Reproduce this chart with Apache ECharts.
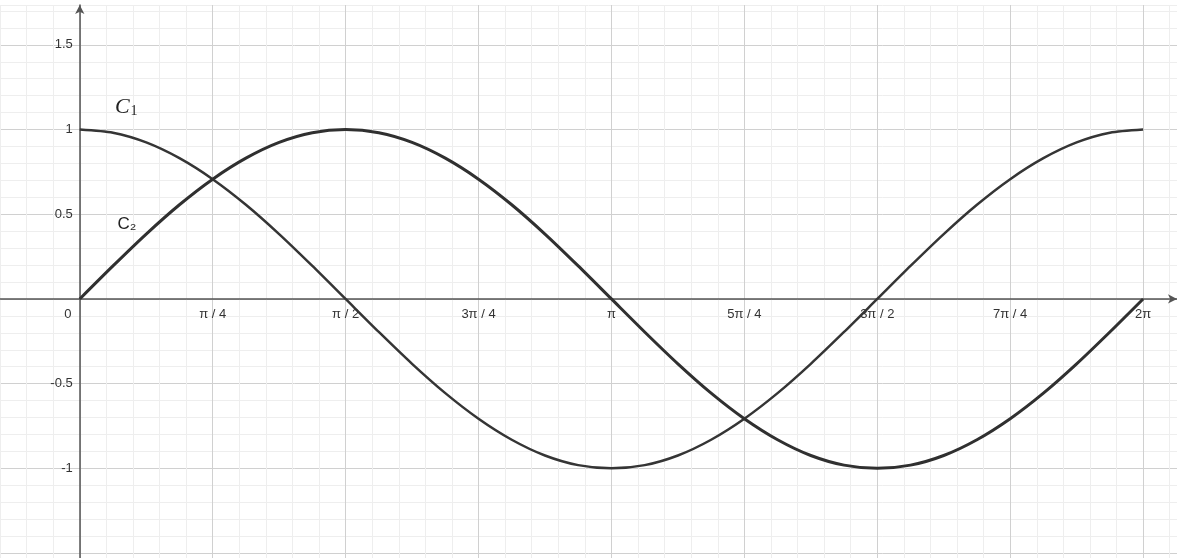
<!DOCTYPE html>
<html>
<head>
<meta charset="utf-8">
<script src="https://cdn.jsdelivr.net/npm/echarts@6/dist/echarts.min.js"></script>
<style>
  * { margin: 0; padding: 0; }
  body { background: #fff; }
</style>
</head>
<body>
<div id="main" style="width:1177px;height:558px;"></div>
<script>
// x positions in units of pi/4, one point every pi/16
var xSteps = [0, 0.25, 0.5, 0.75, 1, 1.25, 1.5, 1.75, 2, 2.25, 2.5, 2.75, 3, 3.25, 3.5, 3.75,
    4, 4.25, 4.5, 4.75, 5, 5.25, 5.5, 5.75, 6, 6.25, 6.5, 6.75, 7, 7.25, 7.5, 7.75, 8];
// C1 starts at 1, C2 starts at 0
var c1Values = [1, 0.981, 0.924, 0.831, 0.707, 0.556, 0.383, 0.195, 0, -0.195, -0.383, -0.556, -0.707, -0.831, -0.924, -0.981,
    -1, -0.981, -0.924, -0.831, -0.707, -0.556, -0.383, -0.195, 0, 0.195, 0.383, 0.556, 0.707, 0.831, 0.924, 0.981, 1];
var c2Values = [0, 0.195, 0.383, 0.556, 0.707, 0.831, 0.924, 0.981, 1, 0.981, 0.924, 0.831, 0.707, 0.556, 0.383, 0.195,
    0, -0.195, -0.383, -0.556, -0.707, -0.831, -0.924, -0.981, -1, -0.981, -0.924, -0.831, -0.707, -0.556, -0.383, -0.195, 0];
var xTickLabels = ['0', 'π / 4', 'π / 2', '3π / 4', 'π', '5π / 4', '3π / 2', '7π / 4', '2π'];
var yTickLabels = [-1, -0.5, 0.5, 1, 1.5];

function pairs(xs, ys) {
    return xs.map(function (x, i) { return [x, ys[i]]; });
}

var major = '#d0d0d0', minor = '#eeeeee';
var xMin = -0.6, xMax = 8.255, yMin = -1.6, yMax = 1.735;
var chartW = 1177, chartH = 558, gridTop = 5, gridBottom = -12;
// move the axes from the grid edges onto the zero lines
var yAxisShift = chartW * (0 - xMin) / (xMax - xMin);
var xAxisShift = (chartH - gridTop - gridBottom) * (0 - yMin) / (yMax - yMin);

var chart = echarts.init(document.getElementById('main'));

chart.setOption({
    animation: false,
    grid: { left: 0, right: 0, top: gridTop, bottom: gridBottom, containLabel: false, outerBoundsMode: 'none' },
    xAxis: {
        type: 'value', min: xMin, max: xMax, interval: 0.2, position: 'bottom', offset: -xAxisShift,
        axisLine: {
            onZero: false, symbol: ['none', 'arrow'], symbolSize: [7, 9],
            lineStyle: { color: '#555', width: 1.5 }
        },
        axisTick: { show: false },
        axisLabel: {
            interval: 0, margin: 9, color: '#333', fontSize: 13,
            fontFamily: 'Liberation Sans',
            formatter: function (v) {
                var k = Math.round(v);
                if (Math.abs(v - k) > 1e-6 || k < 0 || k > 8) return '';
                if (k === 0) return '{z|0}';
                return xTickLabels[k];
            },
            rich: { z: { color: '#333', fontSize: 13, fontFamily: 'Liberation Sans', padding: [0, 24, 0, 0] } }
        },
        // ticks start at -0.6, so every 5th line from index 3 is a pi/4 line
        splitLine: { show: true, lineStyle: { color: [minor, minor, minor, major, minor], width: 1 } }
    },
    yAxis: {
        type: 'value', min: yMin, max: yMax, interval: 0.1, position: 'left', offset: -yAxisShift,
        axisLine: {
            onZero: false, symbol: ['none', 'arrow'], symbolSize: [7, 9],
            lineStyle: { color: '#555', width: 1.5 }
        },
        axisTick: { show: false },
        axisLabel: {
            interval: 0, margin: 7, color: '#333', fontSize: 13,
            fontFamily: 'Liberation Sans',
            formatter: function (v) {
                for (var i = 0; i < yTickLabels.length; i++) {
                    if (Math.abs(v - yTickLabels[i]) < 1e-6) return String(yTickLabels[i]);
                }
                return '';
            }
        },
        // ticks start at -1.6, so -1.5 (index 1) and every 5th line after it is a 0.5 line
        splitLine: { show: true, lineStyle: { color: [minor, major, minor, minor, minor], width: 1 } }
    },
    series: [
        {
            name: 'C1', type: 'line',
            data: pairs(xSteps, c1Values), smooth: 0.25, showSymbol: false, z: 3,
            lineStyle: { color: '#353535', width: 2.5 },
            markPoint: {
                symbolSize: 0,
                label: {
                    show: true, position: 'inside', formatter: '{c|C}{s|1}',
                    rich: {
                        c: { fontFamily: 'Liberation Serif', fontStyle: 'italic', fontSize: 22, color: '#222', verticalAlign: 'bottom' },
                        s: { fontFamily: 'Liberation Serif', fontSize: 14, color: '#222', verticalAlign: 'bottom', padding: [0, 0, 0, 1] }
                    }
                },
                data: [{ coord: [0.35, 1.13] }]
            }
        },
        {
            name: 'C2', type: 'line',
            data: pairs(xSteps, c2Values), smooth: 0.25, showSymbol: false, z: 3,
            lineStyle: { color: '#303030', width: 3 },
            markPoint: {
                symbolSize: 0,
                label: {
                    show: true, position: 'inside', formatter: '{c|C}{s|₂}',
                    rich: {
                        c: { fontFamily: 'Liberation Sans', fontSize: 17, color: '#222' },
                        s: { fontFamily: 'Liberation Sans', fontSize: 17, color: '#222' }
                    }
                },
                data: [{ coord: [0.355, 0.44] }]
            }
        }
    ]
});
</script>
</body>
</html>
